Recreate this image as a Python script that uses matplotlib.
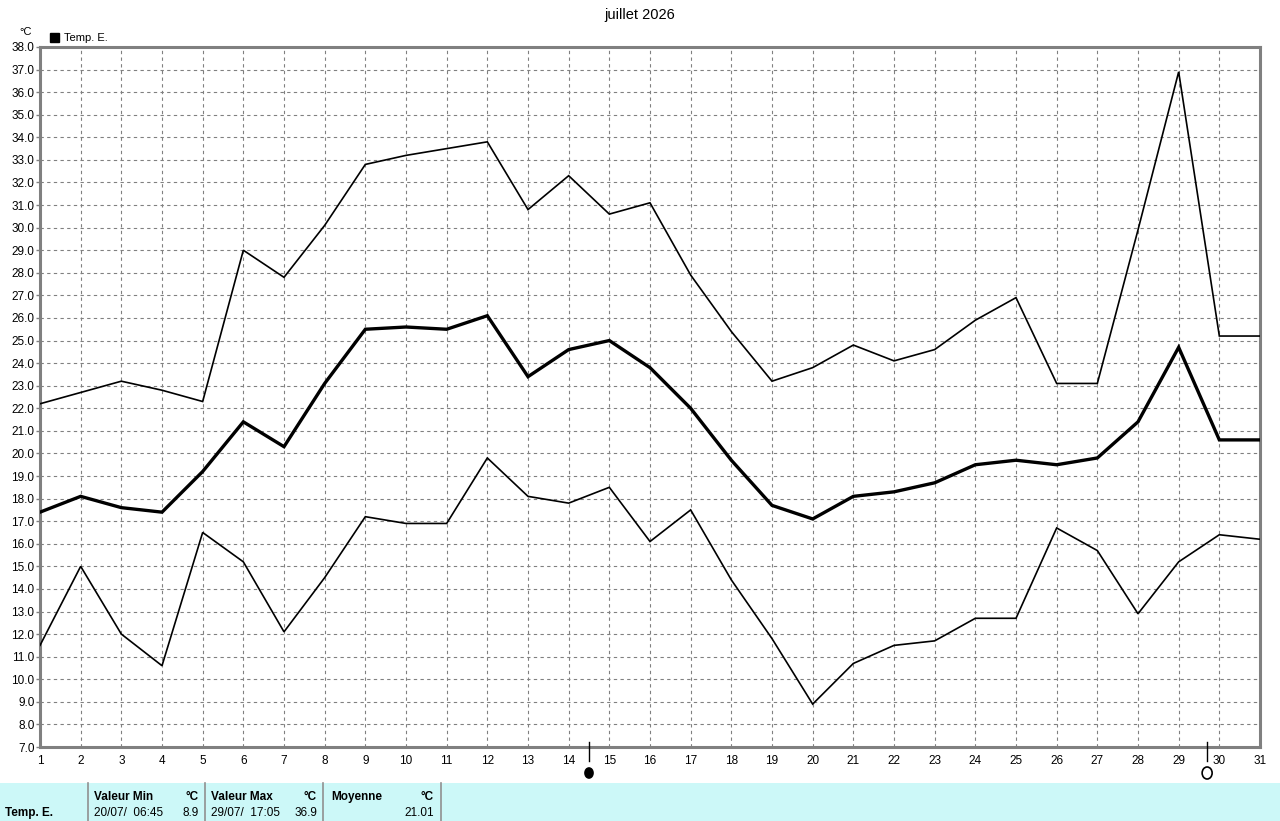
import numpy as np
import matplotlib.pyplot as plt
from matplotlib.patches import Rectangle, Ellipse

plt.rcParams['font.family'] = ['Liberation Sans', 'DejaVu Sans']

# daily values, July 2026, outdoor temperature (deg C)
days = list(range(1, 32))
t_max = [22.2, 22.7, 23.2, 22.8, 22.3, 29.0, 27.8, 30.1, 32.8, 33.2,
         33.5, 33.8, 30.8, 32.3, 30.6, 31.1, 27.9, 25.4, 23.2, 23.8,
         24.8, 24.1, 24.6, 25.9, 26.9, 23.1, 23.1, 29.9, 36.9, 25.2, 25.2]
t_mean = [17.4, 18.1, 17.6, 17.4, 19.2, 21.4, 20.3, 23.1, 25.5, 25.6,
          25.5, 26.1, 23.4, 24.6, 25.0, 23.8, 22.0, 19.7, 17.7, 17.1,
          18.1, 18.3, 18.7, 19.5, 19.7, 19.5, 19.8, 21.4, 24.7, 20.6, 20.6]
t_min = [11.5, 15.0, 12.0, 10.6, 16.5, 15.2, 12.1, 14.5, 17.2, 16.9,
         16.9, 19.8, 18.1, 17.8, 18.5, 16.1, 17.5, 14.4, 11.8, 8.9,
         10.7, 11.5, 11.7, 12.7, 12.7, 16.7, 15.7, 12.9, 15.2, 16.4, 16.2]
y_ticks = np.arange(7.0, 38.01, 1.0)

# moon phases (day position, filled?)
moon_days = [14.5, 29.7]
moon_full = [True, False]

# summary table
stat_name = 'Temp. E.'
min_when, min_val = '20/07/  06:45', '8.9'
max_when, max_val = '29/07/  17:05', '36.9'
mean_val = '21.01'

W, H = 1280, 821
fig = plt.figure(figsize=(W / 100, H / 100), dpi=100)

def fx(px):
    return px / W

def fy(py):
    return 1 - py / H

ax = fig.add_axes([fx(40), fy(747), fx(1260) - fx(40), fy(47) - fy(747)])
ax.set_xlim(1, 31)
ax.set_ylim(7, 38)

ax.plot(days, t_max, color='black', lw=1.2, solid_joinstyle='miter', zorder=3)
ax.plot(days, t_min, color='black', lw=1.2, solid_joinstyle='miter', zorder=3)
ax.plot(days, t_mean, color='black', lw=2.4, solid_joinstyle='miter', zorder=3)

ax.set_xticks(days)
ax.set_xticklabels([str(d) for d in days], fontsize=8.5)
ax.set_yticks(y_ticks)
ax.set_yticklabels(['%.1f' % v for v in y_ticks], fontsize=8.5)
ax.tick_params(axis='y', length=3, width=1, color='#808080', pad=1)
ax.tick_params(axis='x', length=0, pad=6)
ax.grid(True, color='#808080', linestyle=(0, (3, 3)), linewidth=0.8)
ax.set_axisbelow(True)
for s in ax.spines.values():
    s.set_color('#808080')
    s.set_linewidth(2.2)

# moon phase ticks and symbols
for d, full in zip(moon_days, moon_full):
    ax.plot([d, d], [7.2, 6.4], color='black', lw=1, clip_on=False, zorder=4)
    xpix = 40 + (d - 1) * 1220 / 30
    w, h = (8, 10) if full else (10, 12)
    fig.patches.append(Ellipse((fx(xpix), fy(773)), w / W, h / H,
                               transform=fig.transFigure,
                               facecolor='black' if full else 'white',
                               edgecolor='black', lw=1.2))

fig.text(0.5, fy(15), 'juillet 2026', ha='center', va='center', fontsize=10.5)
fig.text(fx(19), fy(32), '°C', ha='left', va='center', fontsize=8)
fig.patches.append(Rectangle((fx(50), fy(42)), 9 / W, 9 / H,
                             transform=fig.transFigure, color='black'))
fig.text(fx(64), fy(38), 'Temp. E.', ha='left', va='center', fontsize=8)

# bottom summary band
fig.patches.append(Rectangle((0, 0), 1, fy(783), transform=fig.transFigure,
                             facecolor='#ccf8f8', edgecolor='none'))
for xp in [88, 205, 323, 441]:
    fig.add_artist(plt.Line2D([fx(xp), fx(xp)], [0, fy(783)], color='#909090',
                              lw=1.2, transform=fig.transFigure))

r1, r2 = fy(797), fy(813)
fig.text(fx(5), r2, stat_name, fontsize=8.5, fontweight='bold', va='center')
fig.text(fx(94), r1, 'Valeur Min', fontsize=8.5, fontweight='bold', va='center')
fig.text(fx(199), r1, '°C', fontsize=8.5, fontweight='bold', va='center', ha='right')
fig.text(fx(94), r2, min_when, fontsize=8.5, va='center')
fig.text(fx(199), r2, min_val, fontsize=8.5, va='center', ha='right')
fig.text(fx(211), r1, 'Valeur Max', fontsize=8.5, fontweight='bold', va='center')
fig.text(fx(317), r1, '°C', fontsize=8.5, fontweight='bold', va='center', ha='right')
fig.text(fx(211), r2, max_when, fontsize=8.5, va='center')
fig.text(fx(317), r2, max_val, fontsize=8.5, va='center', ha='right')
fig.text(fx(331), r1, 'Moyenne', fontsize=8.5, fontweight='bold', va='center')
fig.text(fx(434), r1, '°C', fontsize=8.5, fontweight='bold', va='center', ha='right')
fig.text(fx(434), r2, mean_val, fontsize=8.5, va='center', ha='right')

fig.savefig('out.png', dpi=100)
